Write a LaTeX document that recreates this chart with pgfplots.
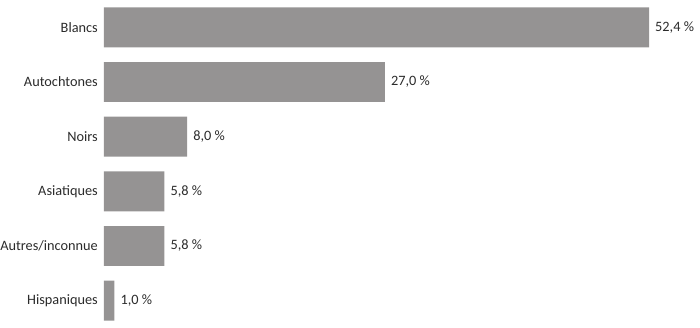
\documentclass[border=0pt]{standalone}
\usepackage{pgfplots}
\pgfplotsset{compat=1.18}
\usepackage{fontspec}
\setmainfont{Carlito}
\definecolor{bargray}{HTML}{959393}
\definecolor{txt}{HTML}{2B2B2B}
\begin{document}
\begin{tikzpicture}
\begin{axis}[
  scale only axis,
  width=545pt, height=328pt,
  xmin=0, xmax=52.4,
  ymin=-0.5, ymax=5.5,
  xbar, bar width=0.73,
  hide x axis,
  axis line style={draw=none},
  major tick length=0pt,
  ytick={0,1,2,3,4,5},
  yticklabels={Hispaniques,Autres/inconnue,Asiatiques,Noirs,Autochtones,Blancs},
  yticklabel style={font=\fontsize{14.3}{17}\selectfont, text=txt, inner xsep=6pt},
  clip=false,
  /pgf/number format/assume math mode=true,
  nodes near coords={\pgfmathprintnumber[fixed,zerofill,precision=1,use comma,assume math mode=true]{\pgfplotspointmeta}~\%},
  nodes near coords style={font=\fontsize{14.3}{17}\selectfont, text=txt, inner xsep=6pt},
  point meta=x,
]
\addplot[fill=bargray, draw=none] coordinates {(1.0,0) (5.8,1) (5.8,2) (8.0,3) (27.0,4) (52.4,5)};
\end{axis}
\pgfresetboundingbox
\useasboundingbox (-104pt,0) rectangle (596pt,328pt);
\end{tikzpicture}
\end{document}
